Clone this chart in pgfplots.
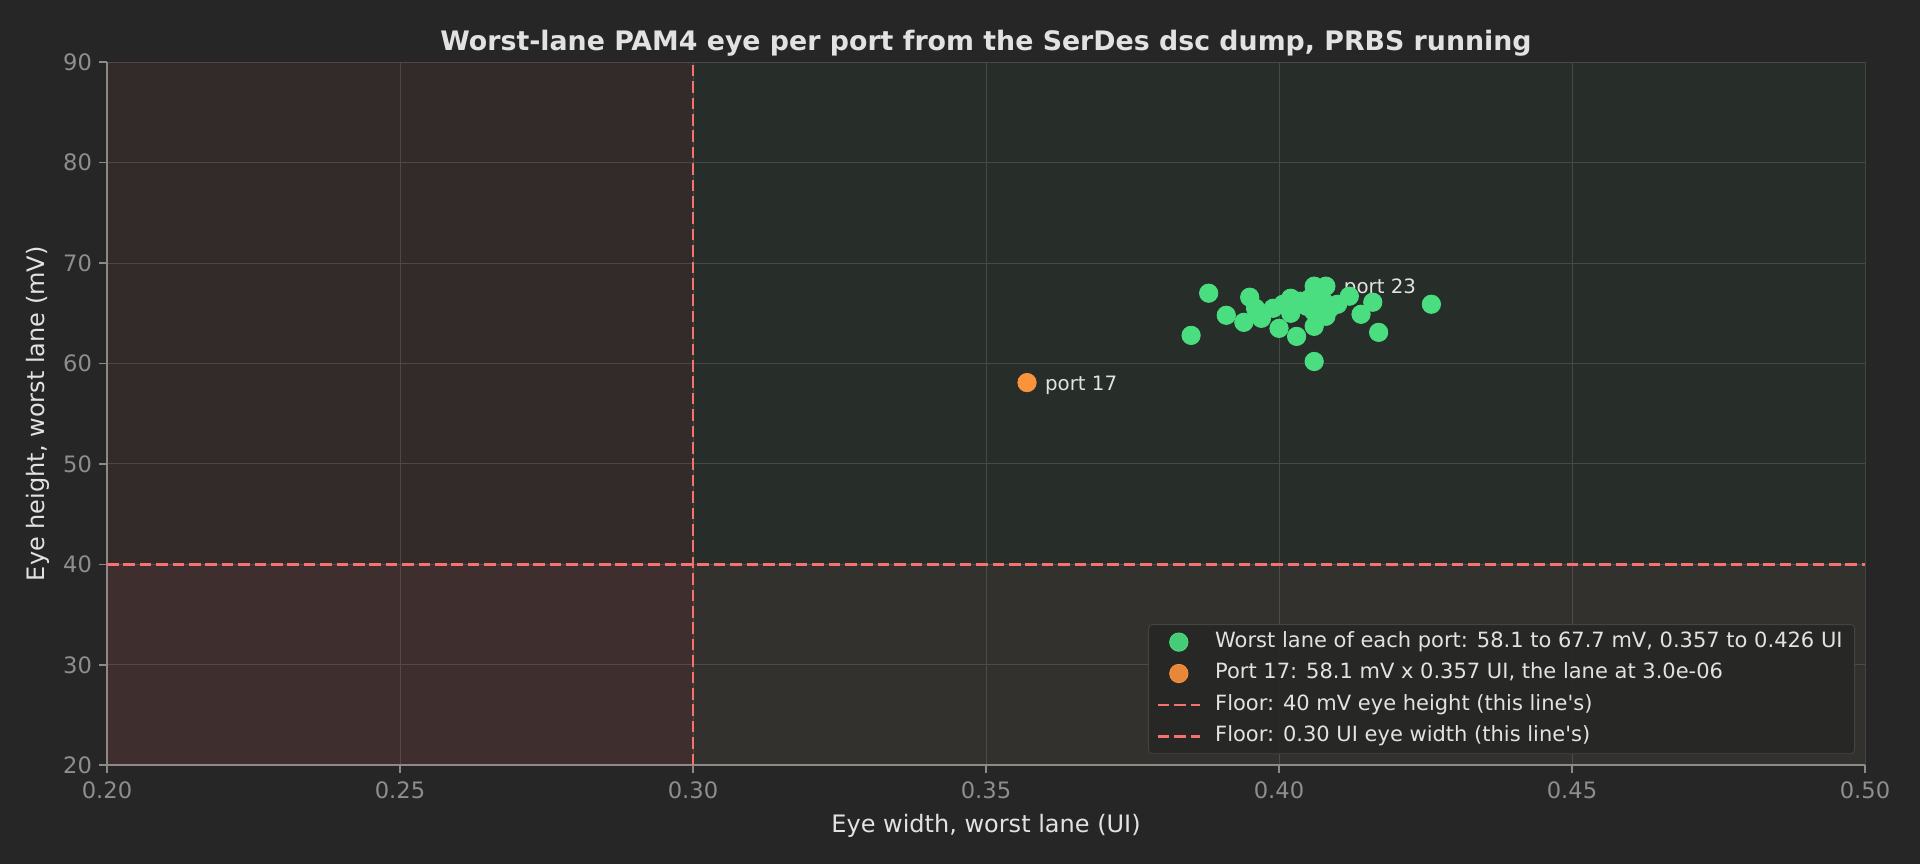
\documentclass[border=0pt]{standalone}
\usepackage{fontspec}
\setmainfont{DejaVu Sans}
\usepackage{pgfplots}
\pgfplotsset{compat=1.18}

\definecolor{bgc}{HTML}{262626}
\definecolor{gridc}{HTML}{444444}
\definecolor{axc}{HTML}{8A8A8A}
\definecolor{tickc}{HTML}{8E8E8E}
\definecolor{txtc}{HTML}{E2E2E2}
\definecolor{floorred}{HTML}{F87171}
\definecolor{ptgreen}{HTML}{4ADE80}
\definecolor{ptorange}{HTML}{FB923C}

\pgfplotsset{
    floorleg/.style={legend image code/.code={\draw[##1] (-0.07cm,0cm) -- (0.67cm,0cm);}},
}

\begin{document}
\begin{tikzpicture}
% page background, 1px = 0.5pt
\fill[bgc] (-53.5pt,-49.4pt) rectangle (906.5pt,382.6pt);
\path[use as bounding box] (-53.5pt,-49.4pt) rectangle (906.5pt,382.6pt);
\begin{axis}[
    at={(0,0)}, anchor=south west,
    scale only axis,
    width=879pt, height=351.5pt,
    xmin=0.2, xmax=0.5, ymin=20, ymax=90,
    xtick={0.20,0.25,0.30,0.35,0.40,0.45,0.50},
    ytick={20,30,40,50,60,70,80,90},
    xticklabel style={yshift=-0.5pt, /pgf/number format/.cd, fixed, fixed zerofill, precision=2},
    /pgf/number format/assume math mode=true,
    axis x line*=bottom, axis y line*=left,
    axis line style={draw=axc, line width=1pt, -},
    tick align=outside,
    major tick length=4pt,
    tick style={draw=axc, line width=0.8pt},
    ticklabel style={font=\fontsize{11.3}{13}\selectfont, text=tickc},
    grid=major,
    grid style={draw=gridc, line width=0.5pt},
    title={Worst-lane PAM4 eye per port from the SerDes dsc dump, PRBS running},
    title style={font=\bfseries\fontsize{13.4}{15}\selectfont, text=txtc, at={(0.5,1)}, anchor=base, yshift=0pt},
    xlabel={Eye width, worst lane (UI)},
    ylabel={Eye height, worst lane (mV)},
    label style={font=\fontsize{12}{14}\selectfont, text=txtc},
    xlabel style={at={(axis description cs:0.5,0)}, anchor=center, yshift=-30.5pt},
    ylabel style={at={(axis description cs:0,0.5)}, anchor=center, yshift=34.5pt},
    legend cell align=left,
    legend style={
        at={(rel axis cs:1,0)}, anchor=south east,
        xshift=-5pt, yshift=5.5pt,
        fill=bgc, fill opacity=0.9, text opacity=1,
        draw=gridc, rounded corners=2pt,
        text=txtc, font=\fontsize{10.5}{12}\selectfont,
        row sep=1.2pt, inner xsep=4pt, inner ysep=1.5pt,
        nodes={inner sep=2pt, text height=7.9pt, text depth=2.6pt},
        /tikz/every odd column/.append style={column sep=5pt},
        /tikz/every even column/.append style={column sep=-1.8pt},
    },
]

% shaded zones
\addplot[draw=none, fill=floorred, fill opacity=0.062, forget plot]
    coordinates {(0.2,20) (0.3,20) (0.3,90) (0.2,90)} -- cycle;
\addplot[draw=none, fill=ptgreen, fill opacity=0.04, forget plot]
    coordinates {(0.3,20) (0.5,20) (0.5,90) (0.3,90)} -- cycle;
\addplot[draw=none, fill=floorred, fill opacity=0.06, forget plot]
    coordinates {(0.2,20) (0.5,20) (0.5,40) (0.2,40)} -- cycle;

% worst lane of each port
\addplot[only marks, mark=*, mark size=4.6pt, color=ptgreen, mark options={draw=ptgreen, fill=ptgreen}]
    coordinates {
    (0.388,67.0) (0.385,62.8) (0.391,64.8) (0.394,64.1) (0.395,66.6)
    (0.397,64.5) (0.396,65.5) (0.399,65.5) (0.400,63.5) (0.402,65.0)
    (0.402,66.5) (0.403,62.7) (0.406,67.7) (0.408,67.7) (0.406,60.2)
    (0.406,63.7) (0.408,64.7) (0.410,65.9) (0.412,66.7) (0.414,64.9)
    (0.416,66.1) (0.417,63.1) (0.426,65.9) (0.4036,66.2) (0.4053,66.5)
    (0.4064,65.9) (0.4076,66.2) (0.4059,65.2) (0.4047,65.7) (0.4007,65.9)
    (0.4087,65.5)
    };
\addlegendentry{Worst lane of each port: 58.1 to 67.7 mV, 0.357 to 0.426 UI}

\addplot[only marks, mark=*, mark size=4.6pt, color=ptorange, mark options={draw=ptorange, fill=ptorange}]
    coordinates {(0.357,58.1)};
\addlegendentry{Port 17: 58.1 mV x 0.357 UI, the lane at 3.0e-06}

% floors
\addplot[floorred, line width=1.3pt, dash pattern=on 5.8pt off 2.4pt, floorleg]
    coordinates {(0.2,40) (0.5,40)};
\addlegendentry{Floor: 40 mV eye height (this line\textquotesingle s)}
\addplot[floorred, line width=1.3pt, dash pattern=on 5.8pt off 2.4pt, floorleg]
    coordinates {(0.3,20) (0.3,90)};
\addlegendentry{Floor: 0.30 UI eye width (this line\textquotesingle s)}

\node[anchor=west, xshift=5.5pt, yshift=-1.2pt, text=txtc, font=\fontsize{9.9}{11}\selectfont] at (axis cs:0.408,67.7) {port 23};
\node[anchor=west, xshift=5.5pt, yshift=-1.5pt, text=txtc, font=\fontsize{9.9}{11}\selectfont] at (axis cs:0.357,58.1) {port 17};

\end{axis}
\end{tikzpicture}
\end{document}
